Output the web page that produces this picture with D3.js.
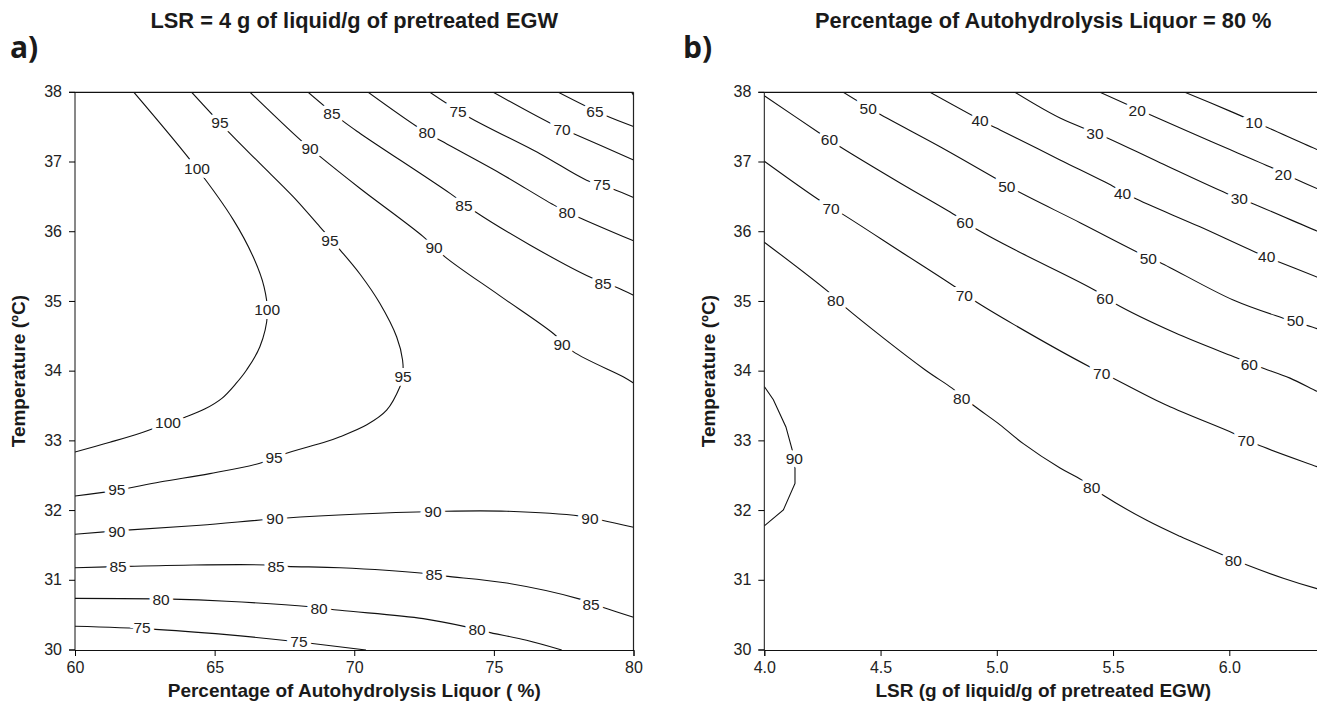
<!DOCTYPE html>
<html>
<head>
<meta charset="utf-8">
<script src="https://cdn.jsdelivr.net/npm/d3@7"></script>
<style>
  html, body { margin: 0; padding: 0; background: #fff; }
  svg { display: block; }
  text { font-family: "Liberation Sans", Arial, sans-serif; }
</style>
</head>
<body>
<svg id="chart" width="1317" height="718"></svg>
<script>
// ---------------- DATA ----------------
const yTicks = [30, 31, 32, 33, 34, 35, 36, 37, 38];
const xTicksA = [60, 65, 70, 75, 80];
const xTicksB = [4.0, 4.5, 5.0, 5.5, 6.0];

// Panel a) contour lines: [Percentage of autohydrolysis liquor, Temperature]
const a100 = [[62.11,38],[64.36,36.91],[65.67,36.17],[66.38,35.64],[66.77,35.21],[66.89,34.81],[66.62,34.35],[66.15,34.02],[65.76,33.82],[65.26,33.61],[64.66,33.46],[63.94,33.34],[63.22,33.24],[62.33,33.11],[61.25,32.98],[60,32.84]];
const a95 = [[64.18,38],[65.55,37.41],[66.62,36.98],[67.82,36.50],[68.77,36.07],[69.49,35.74],[70.21,35.39],[70.92,34.97],[71.52,34.49],[71.73,34.16],[71.73,33.90],[71.64,33.78],[71.16,33.44],[70.45,33.23],[69.49,33.06],[69.01,32.99],[67.40,32.80],[66.62,32.68],[64.83,32.53],[63.04,32.41],[61.49,32.29],[60,32.21]];
const a90up = [[66.27,38],[68.06,37.32],[68.77,37.08],[70.21,36.62],[72.47,35.93],[73.25,35.64],[75.22,35.08],[77.13,34.54],[77.84,34.28],[79.63,33.92],[80,33.83]];
const a85up = [[68.35,38],[69.55,37.60],[70.21,37.41],[73.43,36.55],[74.32,36.29],[76.29,35.81],[78.44,35.35],[79.34,35.21],[80,35.09]];
const a80up = [[70.50,38],[72.24,37.51],[72.95,37.34],[75.22,36.84],[77.25,36.36],[77.97,36.22],[80,35.87]];
const a75up = [[72.71,38],[74.08,37.65],[76.65,37.12],[78.32,36.74],[79.22,36.62],[80,36.49]];
const a70up = [[74.98,38],[77.01,37.56],[77.84,37.41],[80,37.03]];
const a65up = [[77.31,38],[78.98,37.67],[80,37.51]];
const a60up = [[79.93,38],[80,37.96]];
const a90low = [[60,31.66],[61.85,31.72],[64.48,31.79],[67.46,31.89],[70.21,31.95],[73.20,31.99],[75.47,31.99],[78.10,31.92],[78.87,31.86],[80,31.76]];
const a85low = [[60,31.18],[61.91,31.20],[64.24,31.22],[66.87,31.22],[67.58,31.20],[69.49,31.18],[72.47,31.10],[73.25,31.06],[75.46,30.96],[78.08,30.73],[78.92,30.61],[80,30.47]];
const a80low = [[60,30.74],[63.46,30.73],[65.43,30.70],[68.42,30.62],[69.49,30.57],[72.47,30.45],[74.03,30.33],[74.74,30.26],[76.17,30.14],[77.43,30.0]];
const a75low = [[60,30.34],[62.75,30.30],[65.43,30.22],[67.70,30.13],[68.35,30.10],[70.42,30.0]];

// Panel a) contour labels: [value, x, y]
const labelsA = [
  [100,64.37,36.91],[100,66.88,34.88],[100,63.33,33.27],
  [95,65.19,37.56],[95,69.13,35.88],[95,71.75,33.93],[95,67.13,32.76],[95,61.5,32.30],
  [90,68.42,37.20],[90,72.86,35.77],[90,77.44,34.38],
  [90,61.5,31.70],[90,67.16,31.88],[90,72.82,31.98],[90,78.44,31.89],
  [85,69.20,37.70],[85,73.93,36.38],[85,78.91,35.26],
  [85,61.54,31.20],[85,67.2,31.20],[85,72.86,31.09],[85,78.48,30.65],
  [80,72.61,37.42],[80,77.62,36.28],
  [80,63.08,30.73],[80,68.74,30.60],[80,74.40,30.29],
  [75,73.72,37.72],[75,78.87,36.68],
  [75,62.40,30.32],[75,68.02,30.12],
  [70,77.44,37.47],[65,78.62,37.73]
];

// Panel b) contour lines: [LSR, Temperature]
const b90 = [[4.0,33.78],[4.039,33.59],[4.093,33.20],[4.12,32.87],[4.132,32.61],[4.132,32.39],[4.082,32.01],[4.0,31.78]];
const b80 = [[4.0,35.85],[4.275,35.14],[4.354,34.90],[4.691,34.02],[4.806,33.76],[4.899,33.51],[5.014,33.23],[5.114,32.96],[5.272,32.61],[5.365,32.44],[5.458,32.22],[5.645,31.86],[5.788,31.63],[5.974,31.36],[6.068,31.23],[6.232,31.03],[6.377,30.88],[6.4,30.86]];
const b70 = [[4.0,37.01],[4.247,36.43],[4.333,36.26],[4.584,35.72],[4.820,35.21],[4.899,35.02],[5.078,34.66],[5.401,34.06],[5.494,33.91],[5.731,33.51],[6.017,33.11],[6.118,32.95],[6.377,32.63],[6.4,32.60]];
const b60 = [[4.0,37.95],[4.240,37.41],[4.326,37.22],[4.584,36.70],[4.820,36.24],[4.906,36.05],[5.078,35.74],[5.422,35.16],[5.508,34.97],[5.766,34.55],[6.017,34.21],[6.131,34.06],[6.261,33.90],[6.377,33.71],[6.4,33.68]];
const b50 = [[4.340,38],[4.490,37.70],[4.756,37.22],[4.992,36.77],[5.078,36.60],[5.358,36.13],[5.616,35.69],[5.702,35.56],[6.017,35.02],[6.232,34.76],[6.377,34.61],[6.4,34.58]];
const b40 = [[4.713,38],[4.971,37.53],[5.014,37.46],[5.272,37.03],[5.501,36.65],[5.587,36.49],[5.874,36.07],[6.110,35.71],[6.211,35.57],[6.377,35.35],[6.4,35.32]];
const b30 = [[5.078,38],[5.272,37.63],[5.466,37.36],[5.702,36.99],[5.989,36.55],[6.089,36.42],[6.377,36.01],[6.4,35.98]];
const b20 = [[5.444,38],[5.645,37.70],[5.917,37.30],[6.189,36.91],[6.275,36.77],[6.377,36.62],[6.4,36.59]];
const b10 = [[5.809,38],[6.003,37.73],[6.154,37.51],[6.377,37.18],[6.4,37.15]];

// Panel b) contour labels: [value, x, y]
const labelsB = [
  [90,4.129,32.75],
  [80,4.307,35.01],[80,4.849,33.61],[80,5.408,32.33],[80,6.017,31.28],
  [70,4.287,36.34],[70,4.860,35.09],[70,5.451,33.97],[70,6.072,33.01],
  [60,4.28,37.32],[60,4.863,36.13],[60,5.465,35.04],[60,6.086,34.10],
  [50,4.447,37.77],[50,5.043,36.65],[50,5.652,35.62],[50,6.284,34.72],
  [40,4.928,37.60],[40,5.541,36.55],[40,6.161,35.64],
  [30,5.422,37.41],[30,6.043,36.48],
  [20,5.604,37.74],[20,6.232,36.82],
  [10,6.106,37.56]
];

const linesA = [a100, a95, a90up, a85up, a80up, a75up, a70up, a65up, a60up, a90low, a85low, a80low, a75low];
const linesB = [b90, b80, b70, b60, b50, b40, b30, b20, b10];

// ---------------- DRAW ----------------
const svg = d3.select("#chart");
const plotTop = 92.3, plotBottom = 650;

function panel(cfg) {
  const x = d3.scaleLinear().domain(cfg.xDomain).range(cfg.xRange);
  const y = d3.scaleLinear().domain([30, 38]).range([plotBottom, plotTop]);
  const g = svg.append("g");

  g.append("clipPath").attr("id", cfg.id + "clip")
    .append("rect").attr("x", cfg.xRange[0]).attr("y", plotTop)
    .attr("width", cfg.xRange[1] - cfg.xRange[0]).attr("height", plotBottom - plotTop);

  const plot = g.append("g").attr("clip-path", `url(#${cfg.id}clip)`);
  cfg.lines.forEach((pts, i) => {
    const isLinear = cfg.linearIdx && cfg.linearIdx.includes(i);
    const line = d3.line().x(d => x(d[0])).y(d => y(d[1]))
      .curve(isLinear ? d3.curveLinear : d3.curveCatmullRom.alpha(0.5));
    plot.append("path").datum(pts)
      .attr("d", line)
      .attr("fill", "none").attr("stroke", "#111").attr("stroke-width", 1.1);
  });

  plot.selectAll("text.lab").data(cfg.labels).join("text")
    .attr("class", "lab")
    .attr("x", d => x(d[1])).attr("y", d => y(d[2]))
    .attr("text-anchor", "middle").attr("dominant-baseline", "central")
    .attr("font-size", 15.5).attr("fill", "#222")
    .attr("stroke", "#fff").attr("stroke-width", 8).attr("paint-order", "stroke")
    .text(d => d[0]);

  // frame: top and right
  g.append("line").attr("x1", cfg.xRange[0]).attr("x2", cfg.xRange[1])
    .attr("y1", plotTop).attr("y2", plotTop).attr("stroke", "#111").attr("stroke-width", 1.2);
  if (cfg.rightBorder) {
    g.append("line").attr("x1", cfg.xRange[1]).attr("x2", cfg.xRange[1])
      .attr("y1", plotTop).attr("y2", plotBottom).attr("stroke", "#222").attr("stroke-width", 1.2);
  }

  // axes
  const yAxis = d3.axisLeft(y).tickValues(yTicks).tickSize(6).tickPadding(7).tickFormat(d3.format("d")).offset(0);
  const ga = g.append("g").attr("transform", `translate(${cfg.xRange[0]},0)`).call(yAxis);
  ga.select(".domain").attr("stroke", "#111").attr("stroke-width", 1);
  ga.selectAll("text").attr("font-size", 16).attr("fill", "#222")
    .style("font-family", "'Liberation Sans', Arial, sans-serif");

  const xAxis = d3.axisBottom(x).tickValues(cfg.xTicks).tickSize(6).tickPadding(6).tickFormat(cfg.xFormat);
  const gb = g.append("g").attr("transform", `translate(0,${plotBottom})`).call(xAxis);
  gb.select(".domain").attr("stroke", "#111");
  gb.selectAll("text").attr("font-size", 16).attr("fill", "#222")
    .style("font-family", "'Liberation Sans', Arial, sans-serif");

  // titles
  const cx = (cfg.xRange[0] + cfg.xRange[1]) / 2;
  g.append("text").attr("x", cx).attr("y", 28).attr("text-anchor", "middle")
    .attr("font-size", 21.8).attr("font-weight", "bold").attr("fill", "#1a1a1a").text(cfg.title);
  g.append("text").attr("x", cfg.letterX).attr("y", 58)
    .attr("font-size", 30).attr("font-weight", "bold").attr("fill", "#1a1a1a")
    .style("font-family", "'Open Sans', 'DejaVu Sans', sans-serif").text(cfg.letter);
  g.append("text").attr("x", cx).attr("y", 697).attr("text-anchor", "middle")
    .attr("font-size", 19).attr("font-weight", "bold").attr("fill", "#1a1a1a").text(cfg.xTitle);
  g.append("text").attr("transform", `translate(${cfg.yTitleX},${(plotTop + plotBottom) / 2}) rotate(-90)`)
    .attr("text-anchor", "middle").attr("font-size", 19).attr("font-weight", "bold").attr("fill", "#1a1a1a")
    .text("Temperature (ºC)");
}

panel({
  id: "a", xDomain: [60, 80], xRange: [75, 633.5], xTicks: xTicksA, xFormat: d3.format("d"),
  lines: linesA, labels: labelsA, rightBorder: true,
  title: "LSR = 4 g of liquid/g of pretreated EGW", letter: "a)", letterX: 10,
  xTitle: "Percentage of Autohydrolysis Liquor ( %)", yTitleX: 25
});
panel({
  id: "b", xDomain: [4.0, 6.4], xRange: [764.3, 1322.3], xTicks: xTicksB, xFormat: d3.format(".1f"),
  lines: linesB, labels: labelsB, rightBorder: false, linearIdx: [0],
  title: "Percentage of Autohydrolysis Liquor = 80 %", letter: "b)", letterX: 683,
  xTitle: "LSR (g of liquid/g of pretreated EGW)", yTitleX: 715
});
</script>
</body>
</html>
